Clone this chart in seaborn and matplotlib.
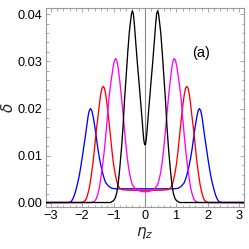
import numpy as np
import pandas as pd
import matplotlib
matplotlib.use("Agg")
import matplotlib.pyplot as plt
import seaborn as sns
from matplotlib.ticker import MultipleLocator

# right-half profiles (curves are symmetric about eta_z = 0)
black_eta = [0.00, 0.02, 0.04, 0.06, 0.08, 0.10, 0.13, 0.16, 0.20, 0.25, 0.30, 0.34,
             0.37, 0.40, 0.43, 0.46, 0.50, 0.55, 0.60, 0.65, 0.70, 0.75, 0.80, 0.85,
             0.90, 0.95, 1.00, 1.10, 3.15]
black_delta = [0.0123, 0.0126, 0.0135, 0.0149, 0.0166, 0.0183, 0.0207, 0.0231, 0.0263,
               0.0302, 0.0345, 0.0380, 0.0400, 0.0407, 0.0401, 0.0385, 0.0361, 0.0318,
               0.0268, 0.0220, 0.0160, 0.0114, 0.0076, 0.0043, 0.0021, 0.0010, 0.0005,
               0.0001, 0.0001]

magenta_eta = [0.00, 0.10, 0.20, 0.30, 0.40, 0.45, 0.50, 0.55, 0.60, 0.65, 0.70, 0.75,
               0.80, 0.85, 0.89, 0.93, 0.97, 1.01, 1.05, 1.10, 1.15, 1.20, 1.25, 1.30,
               1.35, 1.40, 1.45, 1.50, 1.55, 1.60, 1.70, 3.15]
magenta_delta = [0.0024, 0.0024, 0.0026, 0.0030, 0.0038, 0.0050, 0.0065, 0.0088, 0.0118,
                 0.0153, 0.0190, 0.0225, 0.0257, 0.0285, 0.0300, 0.0306, 0.0302, 0.0290,
                 0.0272, 0.0248, 0.0220, 0.0180, 0.0142, 0.0108, 0.0080, 0.0055, 0.0033,
                 0.0019, 0.0009, 0.0004, 0.0001, 0.0001]

red_eta = [0.00, 0.50, 0.70, 0.80, 0.85, 0.90, 0.95, 1.00, 1.05, 1.10, 1.15, 1.20, 1.25,
           1.29, 1.33, 1.37, 1.41, 1.45, 1.50, 1.55, 1.60, 1.65, 1.70, 1.75, 1.80, 1.85,
           1.90, 2.00, 3.15]
red_delta = [0.0027, 0.0027, 0.0028, 0.0031, 0.0036, 0.0046, 0.0062, 0.0082, 0.0110,
             0.0143, 0.0175, 0.0205, 0.0230, 0.0243, 0.0247, 0.0243, 0.0230, 0.0210,
             0.0180, 0.0153, 0.0120, 0.0088, 0.0063, 0.0040, 0.0024, 0.0012, 0.0005,
             0.0001, 0.0001]

blue_eta = [0.00, 0.90, 1.05, 1.15, 1.25, 1.30, 1.35, 1.40, 1.45, 1.50, 1.55, 1.60, 1.65,
            1.69, 1.73, 1.77, 1.81, 1.86, 1.90, 1.95, 2.00, 2.05, 2.10, 2.15, 2.20, 2.25,
            2.30, 2.35, 2.45, 3.15]
blue_delta = [0.0030, 0.0030, 0.0031, 0.0035, 0.0043, 0.0052, 0.0064, 0.0078, 0.0095,
              0.0115, 0.0140, 0.0163, 0.0183, 0.0195, 0.0200, 0.0196, 0.0184, 0.0160,
              0.0140, 0.0118, 0.0095, 0.0074, 0.0055, 0.0040, 0.0027, 0.0016, 0.0008,
              0.0003, 0.0001, 0.0001]

x_ticks = [-3, -2, -1, 0, 1, 2, 3]
y_ticks = [0.00, 0.01, 0.02, 0.03, 0.04]
y_tick_labels = ["0.00", "0.01", "0.02", "0.03", "0.04"]


def mirrored(eta, delta, name):
    e = np.asarray(eta)
    d = np.asarray(delta)
    full_e = np.concatenate([-e[::-1], e[1:]])
    full_d = np.concatenate([d[::-1], d[1:]])
    return pd.DataFrame({"eta": full_e, "delta": full_d, "curve": name})


curves = [
    ("blue", blue_eta, blue_delta, "#0000ff"),
    ("red", red_eta, red_delta, "#ff0000"),
    ("magenta", magenta_eta, magenta_delta, "#ff00ff"),
    ("black", black_eta, black_delta, "#000000"),
]

sns.set_theme(style="white")
plt.rcParams["font.family"] = ["Liberation Sans", "DejaVu Sans"]
plt.rcParams["mathtext.fontset"] = "dejavusans"

fig = plt.figure(figsize=(2.49, 2.49), dpi=100)
ax = fig.add_axes([46 / 249, 42 / 249, 198 / 249, 199 / 249])

ax.axvline(0, color="#8a8a8a", lw=0.8, zorder=1)

for name, e, d, col in curves:
    df = mirrored(e, d, name)
    sns.lineplot(data=df, x="eta", y="delta", ax=ax, color=col, lw=0.95,
                 sort=False, estimator=None, zorder=3)

ax.set_xlim(-3.15, 3.15)
ax.set_ylim(-0.00085, 0.0413)
ax.set_xticks(x_ticks)
ax.set_xticklabels([("\u2212" if t < 0 else "") + str(abs(t)) for t in x_ticks])
ax.set_yticks(y_ticks)
ax.set_yticklabels(y_tick_labels)
ax.xaxis.set_minor_locator(MultipleLocator(0.2))
ax.yaxis.set_minor_locator(MultipleLocator(0.002))

for sp in ax.spines.values():
    sp.set_color("#9a9a9a")
    sp.set_linewidth(0.8)

ax.tick_params(which="both", direction="in", top=True, right=True,
               bottom=True, left=True, color="#9a9a9a", width=0.6,
               labelsize=9.2, labelcolor="black")
ax.tick_params(which="major", length=3.2, pad=2.5)
ax.tick_params(which="minor", length=1.8)

ax.set_xlabel(r"$\eta_z$", fontsize=11, labelpad=2)
ax.set_ylabel(r"$\delta$", fontsize=11, labelpad=1)
ax.text(0.783, 0.774, "(a)", transform=ax.transAxes, fontsize=10.5,
        ha="center", va="center", color="black")

fig.savefig("out.png", dpi=100)
